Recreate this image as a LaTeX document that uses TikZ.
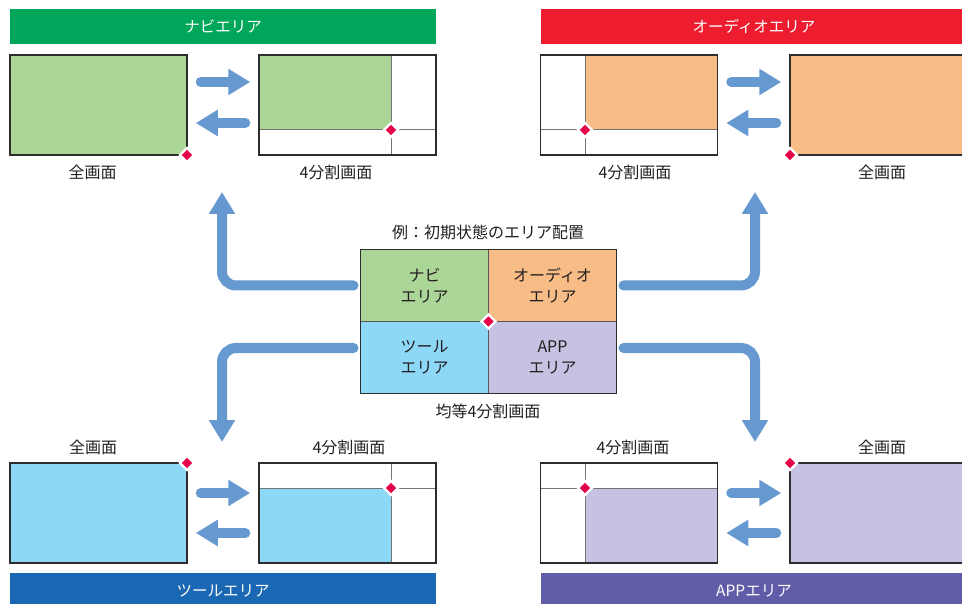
\documentclass[tikz,border=0pt]{standalone}
\usepackage{fontspec}
\setmainfont{Noto Sans CJK JP}
\usetikzlibrary{arrows.meta,shapes.geometric}
\definecolor{navgreen}{RGB}{0,166,90}
\definecolor{audred}{RGB}{237,28,46}
\definecolor{toolblue}{RGB}{26,104,179}
\definecolor{appviolet}{RGB}{96,92,168}
\definecolor{navfill}{RGB}{172,213,152}
\definecolor{audfill}{RGB}{248,188,134}
\definecolor{toolfill}{RGB}{141,215,247}
\definecolor{appfill}{RGB}{197,195,225}
\definecolor{arrowblue}{RGB}{102,153,208}
\definecolor{pinkred}{RGB}{230,0,72}
\definecolor{frame}{RGB}{45,45,45}
\definecolor{ink}{RGB}{35,31,32}
\begin{document}
\begin{tikzpicture}[x=1pt, y=-1pt,
  bar/.style={fill=#1, text=white, minimum width=426pt, minimum height=35pt, inner sep=0pt, font=\fontsize{15.5}{16}\selectfont},
  screen/.style={draw=frame, line width=1.5pt, fill=#1, minimum width=177pt, minimum height=100pt, inner sep=0pt},
  quarter/.style={draw=frame!80, line width=1pt, fill=#1, minimum width=128pt, minimum height=72pt, inner sep=0pt, outer sep=0pt, align=center, text=ink, font=\fontsize{16}{21}\selectfont},
  caption/.style={text=ink, font=\fontsize{16}{19}\selectfont, inner sep=0pt},
  spot/.style={diamond, fill=pinkred, draw=white, line width=2.2pt, inner sep=0pt, minimum size=15pt},
  splitline/.style={draw=black!55, line width=1pt},
  flat/.style={draw=arrowblue, line width=10pt, line cap=round, -{Triangle[width=25pt,length=22pt]}, shorten <=13pt, shorten >=8pt},
  turn/.style={flat, rounded corners=14pt, shorten <=7pt, shorten >=0pt}]
\clip (0,0) rectangle (962,604);
% area bars
\node[bar=navgreen] (navbar) at (223,26.5) {ナビエリア};
\node[bar=audred] (audbar) at (754,26.5) {オーディオエリア};
\node[bar=toolblue] (toolbar) at (223,590.5) {ツールエリア};
\node[bar=appviolet] (appbar) at (754,590.5) {APPエリア};
% nav
\node[screen=navfill] (navfull) at (98.5,105) {};
\fill[navfill] (259,55) rectangle (391,130);
\draw[splitline] (391,55) -- (391,155) (259,130) -- (436,130);
\node[screen=none] (navquad) at (347.5,105) {};
\node[spot] (navfullspot) at (187,155) {};
\node[spot] (navquadspot) at (391,130) {};
\draw[flat] ([yshift=23pt]navfull.east) -- ([yshift=23pt]navquad.west);
\draw[flat] ([yshift=-18pt]navquad.west) -- ([yshift=-18pt]navfull.east);
\node[caption] (navfulltxt) at (92.5,172) {全画面};
\node[caption] (navquadtxt) at (336,172) {4分割画面};
% audio
\fill[audfill] (585,55) rectangle (717.5,130);
\draw[splitline] (585,55) -- (585,155) (540.5,130) -- (717.5,130);
\node[screen=none] (audquad) at (629,105) {};
\node[screen=audfill] (audfull) at (878.5,105) {};
\node[spot] (audquadspot) at (585,130) {};
\node[spot] (audfullspot) at (790,155) {};
\draw[flat] ([yshift=23pt]audquad.east) -- ([yshift=23pt]audfull.west);
\draw[flat] ([yshift=-18pt]audfull.west) -- ([yshift=-18pt]audquad.east);
\node[caption] (audquadtxt) at (635,172) {4分割画面};
\node[caption] (audfulltxt) at (882,172) {全画面};
% tool
\node[screen=toolfill] (toolfull) at (98.5,513) {};
\fill[toolfill] (259,488) rectangle (391,563);
\draw[splitline] (391,463) -- (391,563) (259,488) -- (436,488);
\node[screen=none] (toolquad) at (347.5,513) {};
\node[spot] (toolfullspot) at (187,463) {};
\node[spot] (toolquadspot) at (391,488) {};
\draw[flat] ([yshift=20pt]toolfull.east) -- ([yshift=20pt]toolquad.west);
\draw[flat] ([yshift=-20pt]toolquad.west) -- ([yshift=-20pt]toolfull.east);
\node[caption] (toolfulltxt) at (93,447) {全画面};
\node[caption] (toolquadtxt) at (349,447) {4分割画面};
% app
\fill[appfill] (585,488) rectangle (717.5,563);
\draw[splitline] (585,463) -- (585,563) (540.5,488) -- (717.5,488);
\node[screen=none] (appquad) at (629,513) {};
\node[screen=appfill] (appfull) at (878.5,513) {};
\node[spot] (appquadspot) at (585,488) {};
\node[spot] (appfullspot) at (790,463) {};
\draw[flat] ([yshift=20pt]appquad.east) -- ([yshift=20pt]appfull.west);
\draw[flat] ([yshift=-20pt]appfull.west) -- ([yshift=-20pt]appquad.east);
\node[caption] (appquadtxt) at (633,447) {4分割画面};
\node[caption] (appfulltxt) at (882,447) {全画面};
% initial layout
\node[quarter=navfill] (nav) at (424.5,285.5) {ナビ\\エリア};
\node[quarter=audfill] (aud) at (552.5,285.5) {オーディオ\\エリア};
\node[quarter=toolfill] (tool) at (424.5,357.5) {ツール\\エリア};
\node[quarter=appfill] (app) at (552.5,357.5) {APP\\エリア};
\draw[frame, line width=1.5pt] (nav.north west) rectangle (app.south east);
\node[spot] (midspot) at (488.5,321.5) {};
\node[caption] (title) at (488,232) {例：初期状態のエリア配置};
\node[caption] (note) at (488,411) {均等4分割画面};
\coordinate (navup) at (222,192);
\coordinate (audup) at (755,192);
\coordinate (tooldown) at (222,442);
\coordinate (appdown) at (755,442);
\draw[turn] (nav.west) -| (navup);
\draw[turn] (aud.east) -| (audup);
\draw[turn] ([yshift=9.5pt]tool.west) -| (tooldown);
\draw[turn] ([yshift=9.5pt]app.east) -| (appdown);
\end{tikzpicture}
\end{document}
